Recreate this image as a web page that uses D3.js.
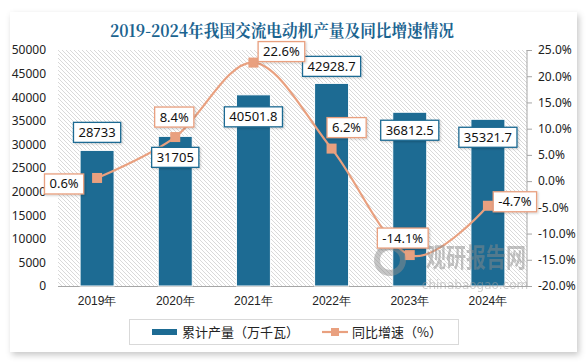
<!DOCTYPE html>
<html><head><meta charset="utf-8">
<script src="https://cdn.jsdelivr.net/npm/d3@7/dist/d3.min.js"></script>
<style>
html,body{margin:0;padding:0;background:#fff;}
svg{display:block;font-family:"Noto Sans CJK SC","Noto Sans",sans-serif;}
</style></head>
<body>
<svg id="c" width="586" height="362"></svg>
<script>
const categories = ["2019年","2020年","2021年","2022年","2023年","2024年"];
const production = [28733, 31705, 40501.8, 42928.7, 36812.5, 35321.7];
const growth = [0.6, 8.4, 22.6, 6.2, -14.1, -4.7];
const productionLabels = ["28733","31705","40501.8","42928.7","36812.5","35321.7"];
const growthLabels = ["0.6%","8.4%","22.6%","6.2%","-14.1%","-4.7%"];
const leftTicks = [0,5000,10000,15000,20000,25000,30000,35000,40000,45000,50000];
const rightTicks = [-20,-15,-10,-5,0,5,10,15,20,25];
const title = "2019-2024年我国交流电动机产量及同比增速情况";
const legendNames = ["累计产量（万千瓦）","同比增速（%）"];

// layout offsets for data labels (px, relative to anchor)
const barLabelDy = [-18, 21, 22, -17, 18, 18];
const lineLabelOff = [[-33,6],[-1,-20],[28,-11],[15,-21],[-7,-17],[27,-4]];

const BLUE = "#1d6b93", SALMON = "#e9a07f";
const svg = d3.select("#c");
const defs = svg.append("defs");
const sh = defs.append("filter").attr("id","cardsh").attr("x","-5%").attr("y","-5%").attr("width","110%").attr("height","115%");
sh.append("feDropShadow").attr("dx",2).attr("dy",3).attr("stdDeviation",3).attr("flood-color","#000").attr("flood-opacity",0.22);
const sh2 = defs.append("filter").attr("id","boxsh").attr("x","-20%").attr("y","-20%").attr("width","150%").attr("height","160%");
sh2.append("feDropShadow").attr("dx",1).attr("dy",1).attr("stdDeviation",1).attr("flood-color","#000").attr("flood-opacity",0.2);
const pat = defs.append("pattern").attr("id","hatch").attr("patternUnits","userSpaceOnUse").attr("width",4).attr("height",4);
pat.append("path").attr("d","M-1,-1 L5,5 M-1,3 L1,5 M3,-1 L5,1").attr("stroke","#cfcfcf").attr("stroke-width",0.8);

svg.append("rect").attr("x",10).attr("y",12).attr("width",567).attr("height",340).attr("fill","#fff").attr("filter","url(#cardsh)");

svg.append("text").attr("x",282).attr("y",37).attr("text-anchor","middle")
  .attr("font-size",17).attr("font-weight","bold").attr("fill","#1b6490")
  .attr("font-family","'Noto Serif CJK SC','Noto Sans CJK SC',serif")
  .attr("textLength",344).attr("lengthAdjust","spacingAndGlyphs").text(title);

const x = d3.scaleBand().domain(categories).range([58,527]).paddingInner(0.565).paddingOuter(0.2825);
const yL = d3.scaleLinear().domain([0,50000]).range([286,50]);
const yR = d3.scaleLinear().domain([-20,25]).range([286,50]);

svg.append("rect").attr("x",58).attr("y",50).attr("width",469).attr("height",236).attr("fill","url(#hatch)");

// left axis
const gL = svg.append("g").attr("transform","translate(46,0)")
  .call(d3.axisLeft(yL).tickValues(leftTicks).tickSize(0).tickPadding(0).tickFormat(d3.format("d")));
gL.select(".domain").remove();
gL.selectAll("text").attr("font-size",12).attr("fill","#222").attr("font-family","'Noto Sans','Noto Sans CJK SC',sans-serif");

// right axis
const gR = svg.append("g").attr("transform","translate(527,0)")
  .call(d3.axisRight(yR).tickValues(rightTicks).tickSize(5).tickPadding(6).tickFormat(d => d.toFixed(1)+"%"));
gR.select(".domain").attr("stroke","#a6a6a6").attr("d","M0,50V286");
gR.selectAll("line").attr("stroke","#a6a6a6");
gR.selectAll("text").attr("font-size",12).attr("fill","#222").attr("font-family","'Noto Sans','Noto Sans CJK SC',sans-serif");

// bottom axis
const gB = svg.append("g").attr("transform","translate(0,286)")
  .call(d3.axisBottom(x).tickSize(0).tickPadding(10));
gB.select(".domain").attr("stroke","#a6a6a6").attr("d","M58,0.5H527");
gB.selectAll("text").attr("font-size",12).attr("fill","#222");

// bars
svg.append("g").selectAll("rect").data(production).join("rect")
  .attr("x",(d,i)=>x(categories[i])).attr("width",x.bandwidth())
  .attr("y",d=>yL(d)).attr("height",d=>yL(0)-yL(d))
  .attr("fill",BLUE).attr("stroke","#fff").attr("stroke-width",1);

// line
const cx = i => x(categories[i]) + x.bandwidth()/2;
const line = d3.line().x((d,i)=>cx(i)).y(d=>yR(d)).curve(d3.curveCatmullRom.alpha(0));
svg.append("path").datum(growth).attr("d",line).attr("fill","none").attr("stroke",SALMON).attr("stroke-width",2.2);
svg.append("g").selectAll("rect").data(growth).join("rect")
  .attr("x",(d,i)=>cx(i)-5).attr("y",d=>yR(d)-5).attr("width",10).attr("height",10).attr("fill",SALMON);

// watermark (on top, translucent)
const wm = svg.append("g").attr("opacity",0.5);
wm.append("circle").attr("cx",390).attr("cy",260).attr("r",13).attr("fill","none").attr("stroke","#8f8f8f").attr("stroke-width",6);
wm.append("g").attr("transform","translate(476,267) scale(1,1.3)")
  .append("text").attr("x",0).attr("y",0).attr("text-anchor","middle").attr("font-size",20).attr("font-weight","bold").attr("fill","#8a8a8a").text("观研报告网");
wm.append("text").attr("x",475).attr("y",289).attr("text-anchor","middle").attr("font-size",12).attr("fill","#a0a0a0").attr("font-family","'DejaVu Sans',sans-serif").text("chinabaogao.com");

function labelBox(g, cxp, cyp, txt, color){
  const grp = g.append("g");
  const r = grp.append("rect").attr("fill","#fff").attr("stroke",color).attr("stroke-width",1.3).attr("filter","url(#boxsh)");
  const t = grp.append("text").attr("x",cxp).attr("y",cyp+4.5).attr("text-anchor","middle").attr("font-size",13).attr("fill","#111")
    .attr("font-family","'Noto Sans','Noto Sans CJK SC',sans-serif").text(txt);
  const w = t.node().getComputedTextLength() + 10;
  r.attr("x",cxp-w/2).attr("y",cyp-10).attr("width",w).attr("height",20);
}
const lg = svg.append("g");
production.forEach((d,i)=>labelBox(lg, cx(i), yL(d)+barLabelDy[i], productionLabels[i], BLUE));
growth.forEach((d,i)=>labelBox(lg, cx(i)+lineLabelOff[i][0], yR(d)+lineLabelOff[i][1], growthLabels[i], SALMON));

// legend
svg.append("rect").attr("x",129.5).attr("y",319.5).attr("width",329).attr("height",25).attr("fill","#fff").attr("stroke","#d9d9d9");
svg.append("rect").attr("x",152).attr("y",329).attr("width",25).attr("height",6).attr("fill",BLUE);
svg.append("text").attr("x",182).attr("y",337).attr("font-size",13).attr("fill","#222").text(legendNames[0]);
svg.append("line").attr("x1",322).attr("x2",348).attr("y1",332).attr("y2",332).attr("stroke",SALMON).attr("stroke-width",2.2);
svg.append("rect").attr("x",331).attr("y",328).attr("width",8).attr("height",8).attr("fill",SALMON);
svg.append("text").attr("x",352).attr("y",337).attr("font-size",13).attr("fill","#222").text(legendNames[1]);
</script>
</body></html>
